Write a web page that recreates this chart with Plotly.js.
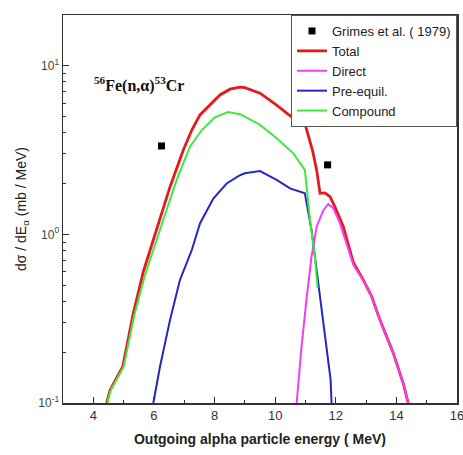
<!DOCTYPE html>
<html>
<head>
<meta charset="utf-8">
<script src="https://cdn.plot.ly/plotly-3.0.1.min.js"></script>
<style>html,body{margin:0;padding:0;background:#fff;}#chart{width:463px;height:455px;}</style>
</head>
<body>
<div id="chart"></div>
<script>
// Experimental data (Grimes et al. 1979)
var expX = [6.25, 11.73];
var expY = [3.34, 2.58];

// Total
var totalX = [4.44, 4.55, 4.97, 5.32, 5.65, 5.98, 6.2, 6.53, 6.97, 7.25, 7.52, 7.9, 8.18, 8.51, 8.84, 9.0, 9.5, 10.05, 10.6, 10.98, 11.24, 11.37, 11.48, 11.64, 11.81, 11.97, 12.25, 12.58, 12.91, 13.18, 13.46, 13.9, 14.23, 14.39];
var totalY = [0.1, 0.119, 0.164, 0.34, 0.6, 0.92, 1.22, 1.91, 3.16, 4.15, 5.1, 5.98, 6.7, 7.25, 7.45, 7.4, 6.86, 5.83, 4.87, 4.55, 3.1, 2.4, 1.75, 1.76, 1.67, 1.46, 1.11, 0.68, 0.535, 0.43, 0.31, 0.197, 0.13, 0.1];

// Direct
var directX = [10.71, 10.87, 11.04, 11.2, 11.37, 11.59, 11.75, 11.92, 12.14, 12.36, 12.58, 12.91, 13.18, 13.46, 13.9, 14.23, 14.39];
var directY = [0.1, 0.216, 0.42, 0.736, 1.11, 1.39, 1.51, 1.43, 1.16, 0.885, 0.66, 0.53, 0.43, 0.31, 0.197, 0.13, 0.1];

// Pre-equilibrium
var preX = [5.98, 6.2, 6.53, 6.86, 7.25, 7.52, 7.96, 8.4, 8.84, 9.0, 9.5, 10.05, 10.49, 10.98, 11.2, 11.37, 11.48, 11.59, 11.7, 11.83, 11.86];
var preY = [0.1, 0.164, 0.31, 0.537, 0.807, 1.16, 1.63, 2.0, 2.24, 2.3, 2.37, 2.1, 1.87, 1.75, 1.06, 0.61, 0.41, 0.297, 0.216, 0.137, 0.1];

// Compound
var compX = [4.46, 4.57, 5.0, 5.35, 5.7, 6.0, 6.31, 6.75, 7.19, 7.58, 8.01, 8.45, 8.84, 9.0, 9.5, 10.05, 10.6, 10.98, 11.15, 11.31, 11.4];
var compY = [0.1, 0.119, 0.164, 0.33, 0.57, 0.84, 1.22, 2.1, 3.31, 4.15, 4.94, 5.3, 5.15, 4.98, 4.45, 3.71, 3.02, 2.41, 1.22, 0.736, 0.478];

// Tick labels
var yTickVals = [0.1, 1, 10];
var yTickText = ['10<sup>-1</sup>', '10<sup>0</sup>', '10<sup>1</sup>'];
var yMinorVals = [0.2,0.3,0.4,0.5,0.6,0.7,0.8,0.9,2,3,4,5,6,7,8,9];
var xTickVals = [4, 6, 8, 10, 12, 14, 16];
var xMinorVals = [5, 7, 9, 11, 13, 15];

var traces = [
  {x: expX, y: expY, type: 'scatter', mode: 'markers', name: 'Grimes et al. ( 1979)',
   marker: {symbol: 'square', size: 7, color: '#000'}},
  {x: totalX, y: totalY, type: 'scatter', mode: 'lines', name: 'Total',
   line: {color: '#e41a1c', width: 2.8}},
  {x: directX, y: directY, type: 'scatter', mode: 'lines', name: 'Direct',
   line: {color: '#f23ff0', width: 2}},
  {x: preX, y: preY, type: 'scatter', mode: 'lines', name: 'Pre-equil.',
   line: {color: '#2427c4', width: 2}},
  {x: compX, y: compY, type: 'scatter', mode: 'lines', name: 'Compound',
   line: {color: '#3fe83f', width: 2}}
];

var layout = {
  width: 463, height: 455,
  margin: {l: 63, r: 6, t: 15, b: 52},
  paper_bgcolor: '#fff', plot_bgcolor: '#fff',
  showlegend: true,
  font: {family: 'Arial, Liberation Sans, sans-serif', color: '#333'},
  xaxis: {
    range: [3, 16], tickmode: 'array', tickvals: xTickVals,
    ticks: 'inside', ticklen: 6, tickcolor: '#333', tickwidth: 1,
    ticklabeloverflow: 'allow',
    minor: {tickmode: 'array', tickvals: xMinorVals, ticks: 'inside', ticklen: 3, tickcolor: '#333'},
    showgrid: false, zeroline: false, showline: true, linecolor: '#333', linewidth: 1.5, mirror: true,
    tickfont: {size: 13, color: '#333'},
    title: {text: '<b>Outgoing alpha particle energy ( MeV)</b>', font: {size: 14, color: '#222'}, standoff: 12}
  },
  yaxis: {
    type: 'log', range: [-1, 1.3], tickmode: 'array', tickvals: yTickVals, ticktext: yTickText,
    ticks: 'inside', ticklen: 6, tickcolor: '#333', tickwidth: 1,
    minor: {tickmode: 'array', tickvals: yMinorVals, ticks: 'inside', ticklen: 3, tickcolor: '#333'},
    showgrid: false, zeroline: false, showline: true, linecolor: '#333', linewidth: 1.5, mirror: true,
    tickfont: {size: 12, color: '#444'},
    title: {text: 'd\u03c3 / dE<sub>\u03b1</sub> (mb / MeV)', font: {size: 14, color: '#222'}, standoff: 8}
  },
  legend: {
    x: 1, xanchor: 'right', y: 1, yanchor: 'top',
    bgcolor: '#fff', bordercolor: '#555', borderwidth: 1,
    font: {size: 13, color: '#222', family: 'Arial, Liberation Sans, sans-serif'},
    tracegroupgap: 0
  },
  annotations: [{
    xref: 'paper', yref: 'paper', x: 0.193, y: 0.82, xanchor: 'center', yanchor: 'middle',
    showarrow: false,
    text: '<b><sup>56</sup>Fe(n,\u03b1)<sup>53</sup>Cr</b>',
    font: {family: 'Liberation Serif, Times New Roman, serif', size: 16, color: '#111'}
  }]
};

Plotly.newPlot('chart', traces, layout, {displayModeBar: false, staticPlot: true});
</script>
</body>
</html>
